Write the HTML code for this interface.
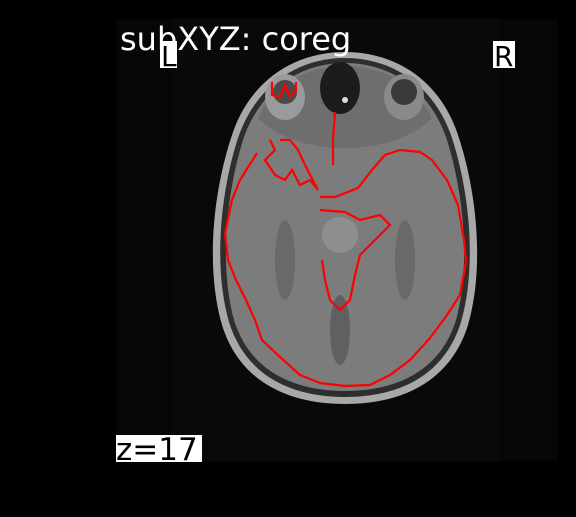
<!DOCTYPE html>
<html><head><meta charset="utf-8"><style>
html,body{margin:0;padding:0;background:#000;width:576px;height:517px;overflow:hidden}
svg{display:block}
</style></head><body>
<svg width="576" height="517" viewBox="0 0 576 517" xmlns="http://www.w3.org/2000/svg">
<rect x="0" y="0" width="576" height="517" fill="#000"/>
<rect x="116" y="19" width="442" height="442" fill="#060606"/>
<rect x="172" y="19" width="328" height="442" fill="#090909"/>
<g>
  <path d="M345,52 C395,52 440,80 458,135 C478,195 484,270 468,325 C450,383 400,404 345,404 C290,404 240,383 222,325 C206,270 212,195 232,135 C250,80 295,52 345,52 Z" fill="#a8a8a8"/>
  <path d="M345,58 C392,58 434,85 452,138 C471,197 476,270 461,322 C444,377 397,397 345,397 C293,397 246,377 229,322 C214,270 219,197 238,138 C256,85 298,58 345,58 Z" fill="#2e2e2e"/>
  <path d="M345,63 C390,63 430,89 447,140 C465,198 470,270 456,320 C440,372 395,391 345,391 C295,391 250,372 234,320 C220,270 225,198 243,140 C260,89 300,63 345,63 Z" fill="#7c7c7c"/>
  <path d="M258,118 C275,82 310,66 345,66 C380,66 415,82 432,118 C412,138 380,148 345,148 C310,148 278,138 258,118 Z" fill="#6e6e6e"/>
  <ellipse cx="285" cy="97" rx="20" ry="23" fill="#9a9a9a"/>
  <ellipse cx="285" cy="92" rx="12" ry="12" fill="#4a4a4a"/>
  <ellipse cx="404" cy="97" rx="20" ry="23" fill="#8a8a8a"/>
  <ellipse cx="404" cy="92" rx="13" ry="13" fill="#3a3a3a"/>
  <ellipse cx="340" cy="88" rx="20" ry="26" fill="#1c1c1c"/>
  <circle cx="345" cy="100" r="3" fill="#ddd"/>
  <ellipse cx="340" cy="235" rx="18" ry="18" fill="#8e8e8e"/>
  <ellipse cx="285" cy="260" rx="10" ry="40" fill="#6a6a6a"/>
  <ellipse cx="405" cy="260" rx="10" ry="40" fill="#6a6a6a"/>
  <ellipse cx="340" cy="330" rx="10" ry="35" fill="#606060"/>
</g>
<g fill="none" stroke="#ff0000" stroke-width="2.2" stroke-linejoin="miter">
  <polyline id="c1"/>
  <polyline id="c2"/>
  <polyline id="c3"/>
  <polyline id="c4"/>
  <polyline id="c5"/>
</g>
<text x="120" y="50" fill="#fff" font-family="'DejaVu Sans','Liberation Sans',sans-serif" font-size="32">subXYZ: coreg</text>
<rect x="160" y="41" width="17" height="27" fill="#fff"/>
<text x="161" y="66" fill="#000" font-family="'DejaVu Sans',sans-serif" font-size="28">L</text>
<rect x="493" y="41" width="22" height="27" fill="#fff"/>
<text x="494" y="66" fill="#000" font-family="'DejaVu Sans',sans-serif" font-size="28">R</text>
<rect x="116" y="435" width="86" height="27" fill="#fff"/>
<text x="116" y="460" fill="#000" font-family="'DejaVu Sans',sans-serif" font-size="31">z=17</text>
</svg>
<script>
const outline = [[257,153],[240,180],[232,200],[225,233],[228,260],[236,280],[246,300],[255,320],[262,340],[280,357],[300,375],[320,383],[345,386],[370,385],[390,375],[410,360],[430,338],[447,315],[460,295],[466,262],[464,240],[458,205],[447,180],[432,160],[420,152],[400,150],[385,155],[372,170],[358,188],[335,197],[320,197]];
const frontal = [[270,140],[275,150],[265,160],[275,175],[285,180],[292,170],[300,185],[310,180],[318,190],[305,165],[298,150],[290,140],[280,140]];
const midline = [[335,112],[333,140],[333,165]];
const eye = [[272,82],[272,95],[280,97],[285,85],[290,97],[296,90],[296,82]];
const center = [[320,210],[345,212],[360,220],[380,215],[390,225],[375,240],[360,255],[355,275],[350,300],[340,310],[330,300],[325,280],[322,260]];
function pts(a){return a.map(p=>p.join(',')).join(' ');}
const ids=['c1','c2','c3','c4','c5'];const sets=[outline,frontal,midline,eye,center];
ids.forEach((id,i)=>{const el=document.getElementById(id);el.setAttribute('points',pts(sets[i]));


});
</script>
</body></html>
